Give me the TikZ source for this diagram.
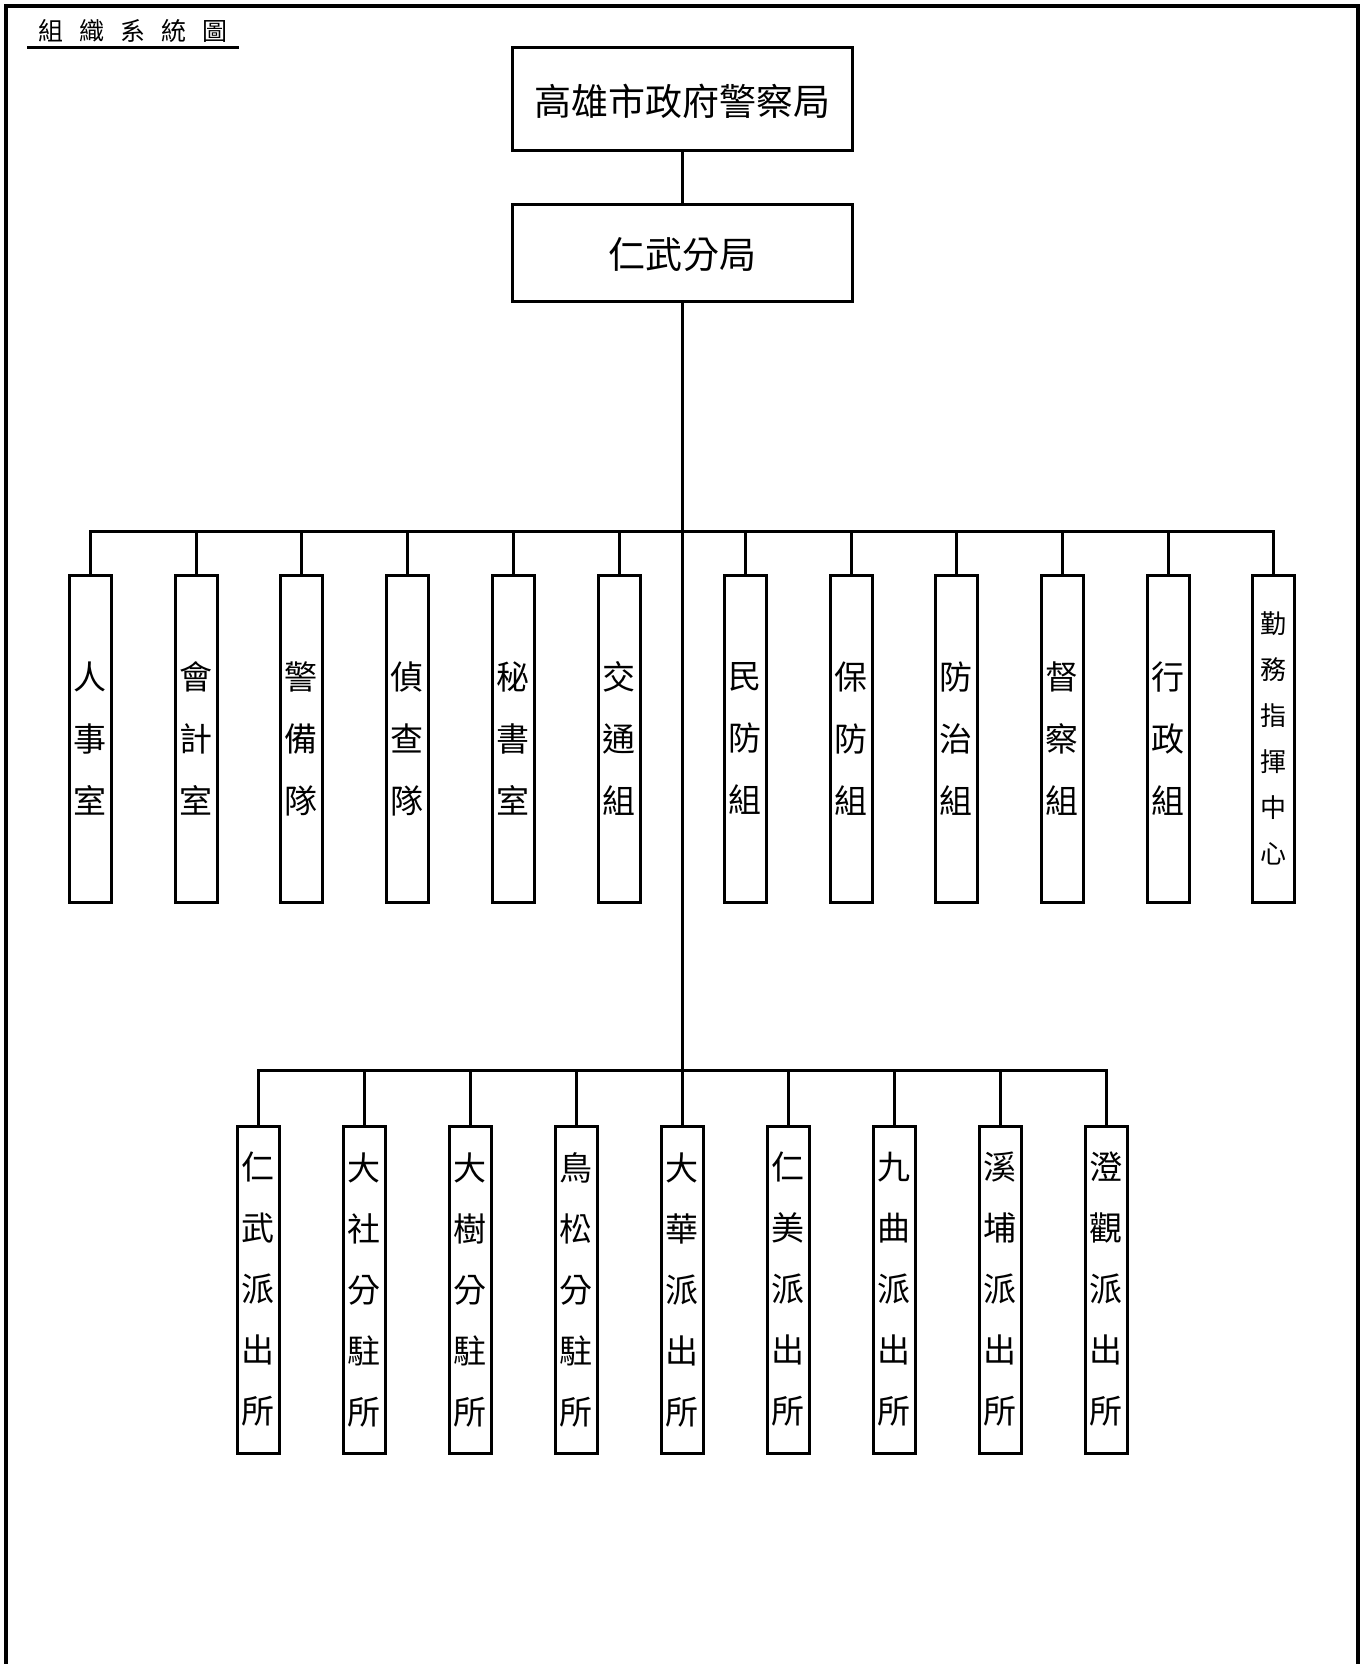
\documentclass[tikz,border=0pt]{standalone}
\usepackage{fontspec}
\usepackage{tikz}
\newfontfamily\cjk{Noto Sans CJK TC}
\newcommand\titlefont{\cjk\fontsize{25}{25}\selectfont\spaceskip=16pt\relax}

\tikzset{
  headbox/.style={draw,line width=3pt,minimum width=340pt,inner sep=0pt,text depth=0pt,font=\cjk\fontsize{37}{37}\selectfont},
  unitbar/.style={draw,line width=3pt,minimum width=42pt,minimum height=327pt,inner sep=0pt,align=center,font=\cjk\fontsize{33}{62}\selectfont},
  smallbar/.style={unitbar,font=\cjk\fontsize{26}{46}\selectfont},
  stationbar/.style={unitbar,font=\cjk\fontsize{33}{61}\selectfont},
  link/.style={line width=3pt}
}

\begin{document}
\begin{tikzpicture}[x=1pt,y=-1pt]
\useasboundingbox (0,0) rectangle (1367,1664);
% page frame, open at the bottom
\draw[line width=4pt] (6,1680) -- (6,6) -- (1358,6) -- (1358,1680);
% title
\node[font=\titlefont] (title) at (133,31) {組 織 系 統 圖};
\draw[link] (27,48) -- (239,48);

% head offices
\node[headbox,minimum height=103pt] (bureau) at (682,99.5) {高雄市政府警察局};
\node[headbox,minimum height=97pt] (branch) at (682,252.5) {仁武分局};
\draw[link] (bureau) -- (branch);

% first row: sections
\coordinate (busA) at (682,531);
\node[unitbar] (dA) at (90,738.5) {人\\事\\室};
\node[unitbar] (dB) at (196,738.5) {會\\計\\室};
\node[unitbar] (dC) at (301,738.5) {警\\備\\隊};
\node[unitbar] (dD) at (407,738.5) {偵\\查\\隊};
\node[unitbar] (dE) at (513,738.5) {秘\\書\\室};
\node[unitbar] (dF) at (619,738.5) {交\\通\\組};
\node[unitbar] (dG) at (745,738.5) {民\\防\\組};
\node[unitbar] (dH) at (851,738.5) {保\\防\\組};
\node[unitbar] (dI) at (956,738.5) {防\\治\\組};
\node[unitbar] (dJ) at (1062,738.5) {督\\察\\組};
\node[unitbar] (dK) at (1168,738.5) {行\\政\\組};
\node[smallbar] (dL) at (1273,738.5) {勤\\務\\指\\揮\\中\\心};

% second row: stations
\coordinate (busB) at (682,1070);
\node[stationbar] (sA) at (258,1289.5) {仁\\武\\派\\出\\所};
\node[stationbar] (sB) at (364,1289.5) {大\\社\\分\\駐\\所};
\node[stationbar] (sC) at (470,1289.5) {大\\樹\\分\\駐\\所};
\node[stationbar] (sD) at (576,1289.5) {鳥\\松\\分\\駐\\所};
\node[stationbar] (sE) at (682,1289.5) {大\\華\\派\\出\\所};
\node[stationbar] (sF) at (788,1289.5) {仁\\美\\派\\出\\所};
\node[stationbar] (sG) at (894,1289.5) {九\\曲\\派\\出\\所};
\node[stationbar] (sH) at (1000,1289.5) {溪\\埔\\派\\出\\所};
\node[stationbar] (sI) at (1106,1289.5) {澄\\觀\\派\\出\\所};

% trunk and branches
\draw[link] (branch) -- (busB);
\draw[link] (busA) -| (dA.north);
\draw[link] (busA) -| (dB.north);
\draw[link] (busA) -| (dC.north);
\draw[link] (busA) -| (dD.north);
\draw[link] (busA) -| (dE.north);
\draw[link] (busA) -| (dF.north);
\draw[link] (busA) -| (dG.north);
\draw[link] (busA) -| (dH.north);
\draw[link] (busA) -| (dI.north);
\draw[link] (busA) -| (dJ.north);
\draw[link] (busA) -| (dK.north);
\draw[link] (busA) -| (dL.north);
\draw[link] (busB) -| (sA.north);
\draw[link] (busB) -| (sB.north);
\draw[link] (busB) -| (sC.north);
\draw[link] (busB) -| (sD.north);
\draw[link] (busB) -- (sE.north);
\draw[link] (busB) -| (sF.north);
\draw[link] (busB) -| (sG.north);
\draw[link] (busB) -| (sH.north);
\draw[link] (busB) -| (sI.north);
\end{tikzpicture}
\end{document}
